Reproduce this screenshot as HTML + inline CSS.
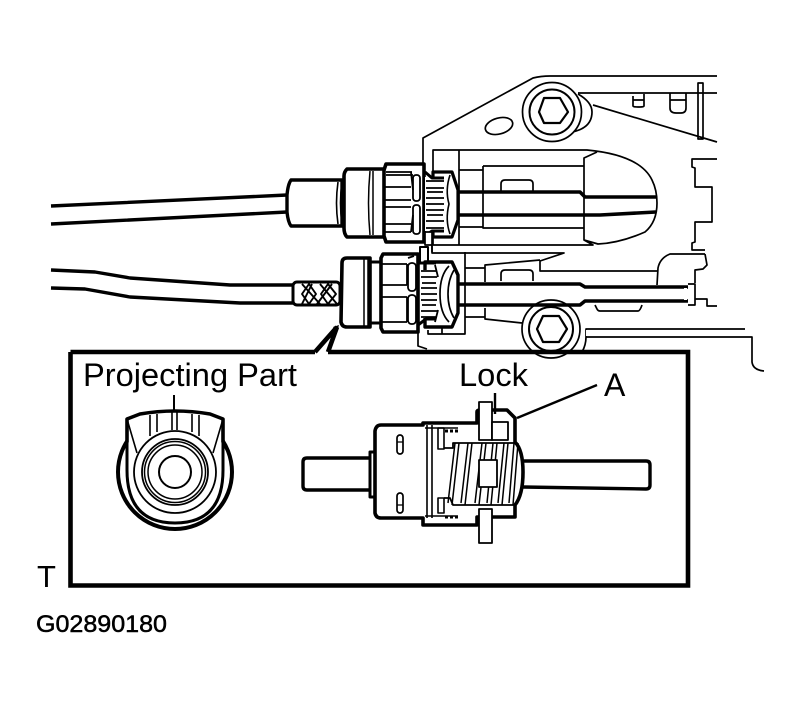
<!DOCTYPE html>
<html><head><meta charset="utf-8"><style>
html,body{margin:0;padding:0;background:#fff}
svg{display:block}
text{font-family:"Liberation Sans",Arial,sans-serif;fill:#000}
</style></head><body>
<svg width="801" height="708" viewBox="0 0 801 708" xmlns="http://www.w3.org/2000/svg" fill="none" stroke="#000" stroke-linejoin="round">
<rect width="801" height="708" fill="#fff" stroke="none"/>

<!-- chassis thin lines -->
<g stroke-width="1.7">
<path d="M418 330V346L427 349M423 165V138L533 78Q541 76 550 76H717"/>
<path d="M578 93H717M593 105L717 142M698 83H703V139H698Z"/>
<path d="M633 96V106Q633 107 638 107H640Q644 107 644 106V94M633 100H644"/>
<path d="M670 93V108Q670 113 676 113H681Q686 113 686 108V93M670 100H686"/>
<ellipse cx="499" cy="126" rx="14" ry="8" transform="rotate(-15 499 126)"/>
<path d="M717 159H692V167L695 168V187H712V222H695V242L692 243V250H705"/>
<path d="M705 254L707 265L703 269L695 270V283M705 254H670Q660 258 658 268L657 285"/>
<path d="M657 271H540V261L564 253H432V245"/>
<path d="M540 260L485 265V282M465 268H485M465 252V334H428V330M442 327V334M485 308V319L522 323"/>
<path d="M595 305L597 309Q598 311 600 311H638Q640 311 642 305"/>
<path d="M465 317H485"/>
<path d="M501 281V274Q501 270 505 270H529Q533 270 533 274V281"/>
<path d="M501 192V184Q501 180 505 180H529Q533 180 533 184V192"/>
<path d="M586 337V329H745M586 337H752V362Q753 370 764 371"/>
<path d="M688 284H695V299H707V306H717M688 305H695V299"/>
<path d="M433 172V150H587Q640 155 652 180Q657 190 657 203Q657 222 645 232Q620 243 598 244L584 240V158L597 152M433 245H593L584 240M433 225V245M459 150V245M459 170H483M483 166H584M483 166V228H584M459 227H483"/>
<path d="M432 245L428 233M432 245V252"/>
</g>

<!-- bolts -->
<g stroke-width="1.7">
<path d="M578 94Q592 102 592 112Q592 128 572 132"/>
<circle cx="552" cy="112" r="29.5" fill="#fff"/>
<circle cx="552" cy="112" r="22.5" stroke-width="2"/>
<path d="M544 98H560L568 112L560 123H544L539 112Z" stroke-width="2.2"/>
<circle cx="551" cy="329" r="29" fill="#fff"/>
<circle cx="551" cy="329" r="22" stroke-width="2"/>
<path d="M543 316H559L567 329L559 342H543L537 329Z" stroke-width="2.2"/>
<path d="M582 352Q586 345 586 337"/>
</g>
<rect x="586" y="330" width="2" height="6" fill="#fff" stroke="none"/>

<!-- rods -->
<g stroke-width="3.6">
<path d="M456 192H580L585 197H656M456 215H585H600L656 212"/>
<path d="M456 284H580L585 287H688M456 305H580L585 301H688"/>
</g>
<rect x="684" y="288" width="3" height="12" fill="#fff" stroke="none"/>

<!-- cables -->
<g stroke-width="3.4">
<path d="M51 206L287 195M51 224L287 212"/>
<path d="M51 270L95 272L130 278L230 285H293M51 288L85 289L130 297L240 303H293"/>
</g>

<!-- top connector -->
<g>
<path d="M291 180H342V226H291Q288 222 287 212V195Q288 184 291 180Z" fill="#fff" stroke-width="3.4"/>
<path d="M338 182Q335 203 338 224M342 182Q339 203 342 224" stroke-width="1.6"/>
<path d="M347 169H385V237H347Q344 234 344 228V176Q344 172 347 169Z" fill="#fff" stroke-width="3.6"/>
<path d="M370 171Q367 203 370 235M373 171V235" stroke-width="1.5"/>
<path d="M433 172H452L458 190V220L452 237H433Z" fill="#fff" stroke-width="3.2"/>
<path d="M450 175Q445 190 449 204Q445 220 450 234" stroke-width="1.6"/>
<path d="M386 164H424V242H386L384 236V170Z" fill="#fff" stroke-width="3.6"/>
<path d="M385 187H411M385 200H411M385 207H411M385 224H411M385 232H411M386 175H413M386 172H412" stroke-width="1.8"/>
<path d="M411 172L413 190M411 232L413 215" stroke-width="1.8"/>
<rect x="413" y="175" width="7" height="26" rx="3" stroke-width="1.8"/>
<rect x="413" y="205" width="7" height="29" rx="3" stroke-width="1.8"/>
<path d="M425 177H445V231H425" fill="#fff" stroke="none"/>
<path d="M426 181H444M426 188H444M427 192H443M426 198H444M426 204H444M426 210H444M427 215H443M426 221H444M426 228H444" stroke-width="1.8"/>
<path d="M425 172L432 178H444M425 236L432 231H444" stroke-width="3"/>
</g>

<!-- small tab -->
<rect x="425" y="232" width="7" height="13" fill="#fff" stroke-width="1.7"/>
<rect x="420" y="247" width="8" height="16" fill="#fff" stroke-width="2"/>

<!-- bottom connector -->
<g>
<rect x="293" y="282" width="47" height="23" rx="4" fill="#fff" stroke-width="3"/>
<path d="M302 284L320 304M312 284L302 304M320 284L337 304M332 284L317 304M309 284L302 294L309 304L316 294ZM328 284L321 294L328 304L336 294Z" stroke-width="1.9" fill="none"/>
<path d="M342 263Q342 258 347 258H370V327H347Q342 327 341 322Z" fill="#fff" stroke-width="3.6"/>
<path d="M364 259V326M368 259V326" stroke-width="1.5"/>
<path d="M370 262H381M370 323H381" stroke-width="3"/>
<path d="M425 262H452L458 275V313L452 327H425Z" fill="#fff" stroke-width="3.4"/>
<path d="M449 266Q440 275 440 294Q440 313 449 322M454 270Q448 280 448 294Q448 308 454 318" stroke-width="1.7"/>
<path d="M383 254H418V332H383L381 328V258Z" fill="#fff" stroke-width="3.6"/>
<path d="M382 264H407M382 285H407M382 297H407M382 322H407M408 258L414 256" stroke-width="1.8"/>
<path d="M407 264V285M407 297V322" stroke-width="1.8"/>
<rect x="408" y="263" width="8" height="28" rx="3.5" stroke-width="1.8"/>
<rect x="408" y="295" width="8" height="29" rx="3.5" stroke-width="1.8"/>
<path d="M421 270H438V318H421" fill="#fff" stroke="none"/>
<path d="M421 271H437M421 277H437M422 283H436M421 288H437M421 294H437M421 300H437M422 305H436M421 311H437M421 317H437" stroke-width="1.8"/>
<path d="M418 263H430L436 263M418 325L426 319H436" stroke-width="3"/>
<path d="M435 265L438 277M435 322L438 310" stroke-width="1.8"/>
</g>

<!-- frame -->
<path d="M315 352L337 327L327 352" fill="#fff" stroke="none"/>
<path d="M315 352L337 327M328 352L337 327M70.500 352H315M328 352H688V585.500H70.500V352" stroke-width="4.600" stroke-linejoin="miter" fill="none"/>
<path d="M333 327L339 325L337 332Z" fill="#000" stroke="none"/>

<!-- end view -->
<g>
<circle cx="175" cy="472" r="57" stroke-width="4"/>
<path d="M127 442V470Q127 523 175 523Q223 523 223 470V442" stroke-width="3"/>
<path d="M127 442V419L140 414Q175 408 210 414L223 419V442" fill="#fff" stroke-width="3.6"/>
<path d="M127 419L137 453M223 419L213 453M150 415V436M157 414V432M192 414V432M199 415V436M172 410V430M177 410V430" stroke-width="1.6"/>
<path d="M174 395V411" stroke-width="2"/>
<circle cx="175" cy="472" r="41" fill="#fff" stroke-width="1.8"/>
<circle cx="175" cy="472" r="33" stroke-width="1.8"/>
<circle cx="175" cy="472" r="30.500" stroke-width="1.5"/>
<circle cx="175" cy="472" r="27" stroke-width="1.5"/>
<circle cx="175" cy="472" r="16" stroke-width="2"/>
</g>

<!-- side view -->
<g>
<path d="M523 461H646Q650 461 650 465V485Q650 489 646 489L523 487" stroke-width="3.4" fill="none"/>
<path d="M371 458H307Q303 458 303 462V486Q303 490 307 490H371" stroke-width="3.4" fill="none"/>
<path d="M375 452H370V497H375" fill="#fff" stroke-width="3"/>
<path d="M375 431Q376 425 381 425H423V423H477V412Q477 410 480 410H507L515 418V442Q523 450 523 472Q523 495 515 505V517H477V525H423V518H381Q376 518 375 513Z" fill="#fff" stroke-width="3.6"/>
<path d="M427 425V518M432 425V518" stroke-width="1.6"/>
<path d="M425 428H458M425 516H458" stroke-width="1.6"/>
<rect x="438" y="428" width="6" height="21" stroke-width="1.6"/>
<rect x="438" y="498" width="6" height="15" stroke-width="1.6"/>
<path d="M445 431H458M445 517H458" stroke-width="3" stroke-dasharray="3 2"/>
<path d="M444 448H453V443H517M444 498H450L453 505H516" stroke-width="1.8"/>
<path d="M455 443L448 503M459 443L452 505M468 443L461 503M472 443L465 505M482 443L475 503M486 443L479 505M493 443L487 503M497 443L491 505M504 443L498 503M508 443L502 505M514 443L509 503M518 443L513 505" stroke-width="1.5"/>
<rect x="479" y="402" width="13" height="38" fill="#fff" stroke-width="1.8"/>
<rect x="492" y="422" width="16" height="18" fill="#fff" stroke-width="1.8"/>
<rect x="479" y="460" width="18" height="27" fill="#fff" stroke-width="1.8"/>
<rect x="479" y="509" width="13" height="34" fill="#fff" stroke-width="1.8"/>
<rect x="397" y="435" width="6" height="19" rx="3" stroke-width="1.7"/>
<rect x="397" y="493" width="6" height="20" rx="3" stroke-width="1.7"/>
<path d="M397 442H403M397 505H403" stroke-width="1.2"/>
<path d="M495 393V414" stroke-width="2.4"/>
<path d="M517 418L597 385" stroke-width="2.4"/>
</g>

<!-- labels -->
<g stroke="none">
<text x="83" y="386" font-size="32" textLength="214" lengthAdjust="spacingAndGlyphs">Projecting Part</text>
<text x="459" y="386" font-size="32" textLength="69" lengthAdjust="spacingAndGlyphs">Lock</text>
<text x="604" y="396" font-size="32">A</text>
<text x="37" y="587" font-size="31">T</text>
<text x="36" y="632" font-size="24" stroke="#000" stroke-width="0.5" textLength="131" lengthAdjust="spacingAndGlyphs">G02890180</text>
</g>
</svg>
</body></html>
